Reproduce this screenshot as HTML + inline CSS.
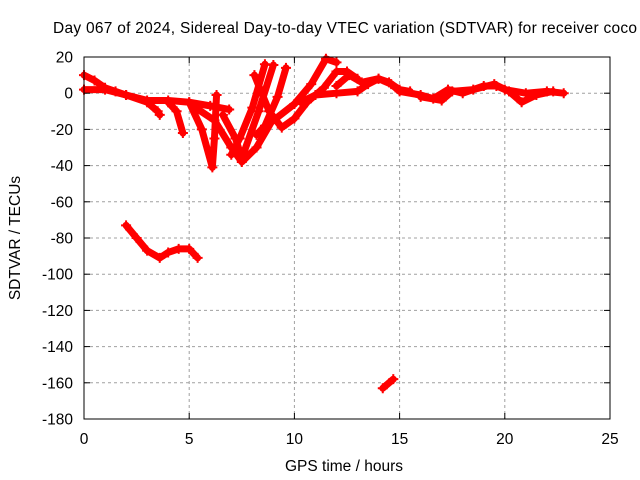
<!DOCTYPE html>
<html><head><meta charset="utf-8"><style>
body{margin:0;background:#fff;}
svg{display:block;font-family:"Liberation Sans",sans-serif;}
</style></head><body>
<svg id="chart" width="640" height="480" viewBox="0 0 640 480">
<rect x="0" y="0" width="640" height="480" fill="#fff"/>
<g id="grid"></g>
<g id="series"></g>
<rect x="84" y="57" width="526" height="362" fill="none" stroke="#000" stroke-width="1"/>
<g id="ticks"></g>
<text x="53" y="33" font-size="15.5" textLength="584" lengthAdjust="spacing">Day 067 of 2024, Sidereal Day-to-day VTEC variation (SDTVAR) for receiver coco</text>
<text x="344" y="471" font-size="15.5" text-anchor="middle">GPS time / hours</text>
<text transform="translate(20,238) rotate(-90)" font-size="15.5" text-anchor="middle">SDTVAR / TECUs</text>
</svg>
<script>
const xTicks=[0,5,10,15,20,25];
const yTicks=[20,0,-20,-40,-60,-80,-100,-120,-140,-160,-180];
const trackA=[[0,10],[0.5,7],[1,3],[1.5,1],[2,-1]];
const trackB=[[0,2],[1,2],[2,-1],[3,-4],[4,-4],[5,-5],[6,-7],[6.9,-9]];
const trackC=[[2,-1],[3,-5],[3.5,-10],[3.6,-12]];
const trackD=[[4,-5],[4.4,-10],[4.7,-22]];
const trackE=[[5,-5],[5.6,-20],[6.1,-41],[6.2,-25],[6.3,-1]];
const trackF=[[5.3,-8],[6.2,-15],[7,-30],[7.5,-38],[8.2,-30],[8.9,-16],[10,-6],[10.8,5],[11.5,19],[12,17]];
const trackG=[[6.6,-12],[7.2,-25],[7.5,-36],[8.3,-10],[9,15.6]];
const trackH=[[8.1,10],[8.8,-10],[9.4,-19],[10,-14],[10.6,-5],[11.4,3],[12,12],[12.5,12],[13,8]];
const trackI=[[8.6,16],[8,-8],[7.4,-25],[7,-34]];
const trackJ=[[9.6,14],[9.2,-2],[8.6,-18],[8.2,-23]];
const trackK=[[10.3,-5],[11,-1],[12,0],[13,1],[13.5,5],[14,8],[14.5,6],[15,2],[15.5,1]];
const trackL=[[12,4],[12.6,10],[13.2,6],[14,8],[14.6,5],[15,1],[16,-1],[16.6,-3],[17.3,2],[18,0],[19,4],[19.6,4],[20,2],[21,0],[22,1],[22.8,0]];
const trackM=[[16,-2],[17,-4],[17.5,1],[18.5,2],[19.5,5],[20.2,1],[20.8,-5],[21.5,-1],[22.3,1]];
const trackN=[[2,-73],[2.5,-80],[3,-87],[3.6,-91],[4,-88],[4.5,-86],[5,-86],[5.4,-91]];
const trackO=[[14.2,-163],[14.7,-158]];
const tracks=[trackA,trackB,trackC,trackD,trackE,trackF,trackG,trackH,trackI,trackJ,trackK,trackL,trackM,trackN,trackO];
const X=h=>84+h*526/25;
const Y=v=>57+(20-v)*362/200;
const NS="http://www.w3.org/2000/svg";
const grid=document.getElementById('grid'),ticks=document.getElementById('ticks'),ser=document.getElementById('series');
function mk(tag,attrs,parent){const e=document.createElementNS(NS,tag);for(const k in attrs)e.setAttribute(k,attrs[k]);parent.appendChild(e);return e;}
xTicks.forEach(t=>{
  if(t>0&&t<25){const g=mk('line',{x1:X(t),x2:X(t),y1:57,y2:419,stroke:'#a0a0a0','stroke-dasharray':'3,3'},grid);
  
  }
  mk('line',{x1:X(t),x2:X(t),y1:419,y2:413,stroke:'#000'},ticks);
  mk('line',{x1:X(t),x2:X(t),y1:57,y2:63,stroke:'#000'},ticks);
  const l=mk('text',{x:X(t),y:444,'font-size':'15.5','text-anchor':'middle'},ticks);l.textContent=t;
  
  
});
yTicks.forEach(t=>{
  if(t<20&&t>-180){const g=mk('line',{x1:84,x2:610,y1:Y(t),y2:Y(t),stroke:'#a0a0a0','stroke-dasharray':'3,3'},grid);
  
  }
  mk('line',{x1:84,x2:90,y1:Y(t),y2:Y(t),stroke:'#000'},ticks);
  mk('line',{x1:604,x2:610,y1:Y(t),y2:Y(t),stroke:'#000'},ticks);
  const l=mk('text',{x:73,y:Y(t)+5.5,'font-size':'15.5','text-anchor':'end'},ticks);l.textContent=t;
  
  
});
tracks.forEach(tr=>{
  const p=mk('polyline',{points:tr.map(d=>X(d[0])+','+Y(d[1])).join(' '),fill:'none',stroke:'#ff0000','stroke-width':'7','stroke-linejoin':'round','stroke-linecap':'round'},ser);
  
  
  tr.forEach(d=>{
    const m=mk('path',{d:`M${X(d[0])-5},${Y(d[1])}h10M${X(d[0])},${Y(d[1])-5}v10`,stroke:'#ff0000','stroke-width':'2'},ser);
    
    
  });
});
</script>
</body></html>
